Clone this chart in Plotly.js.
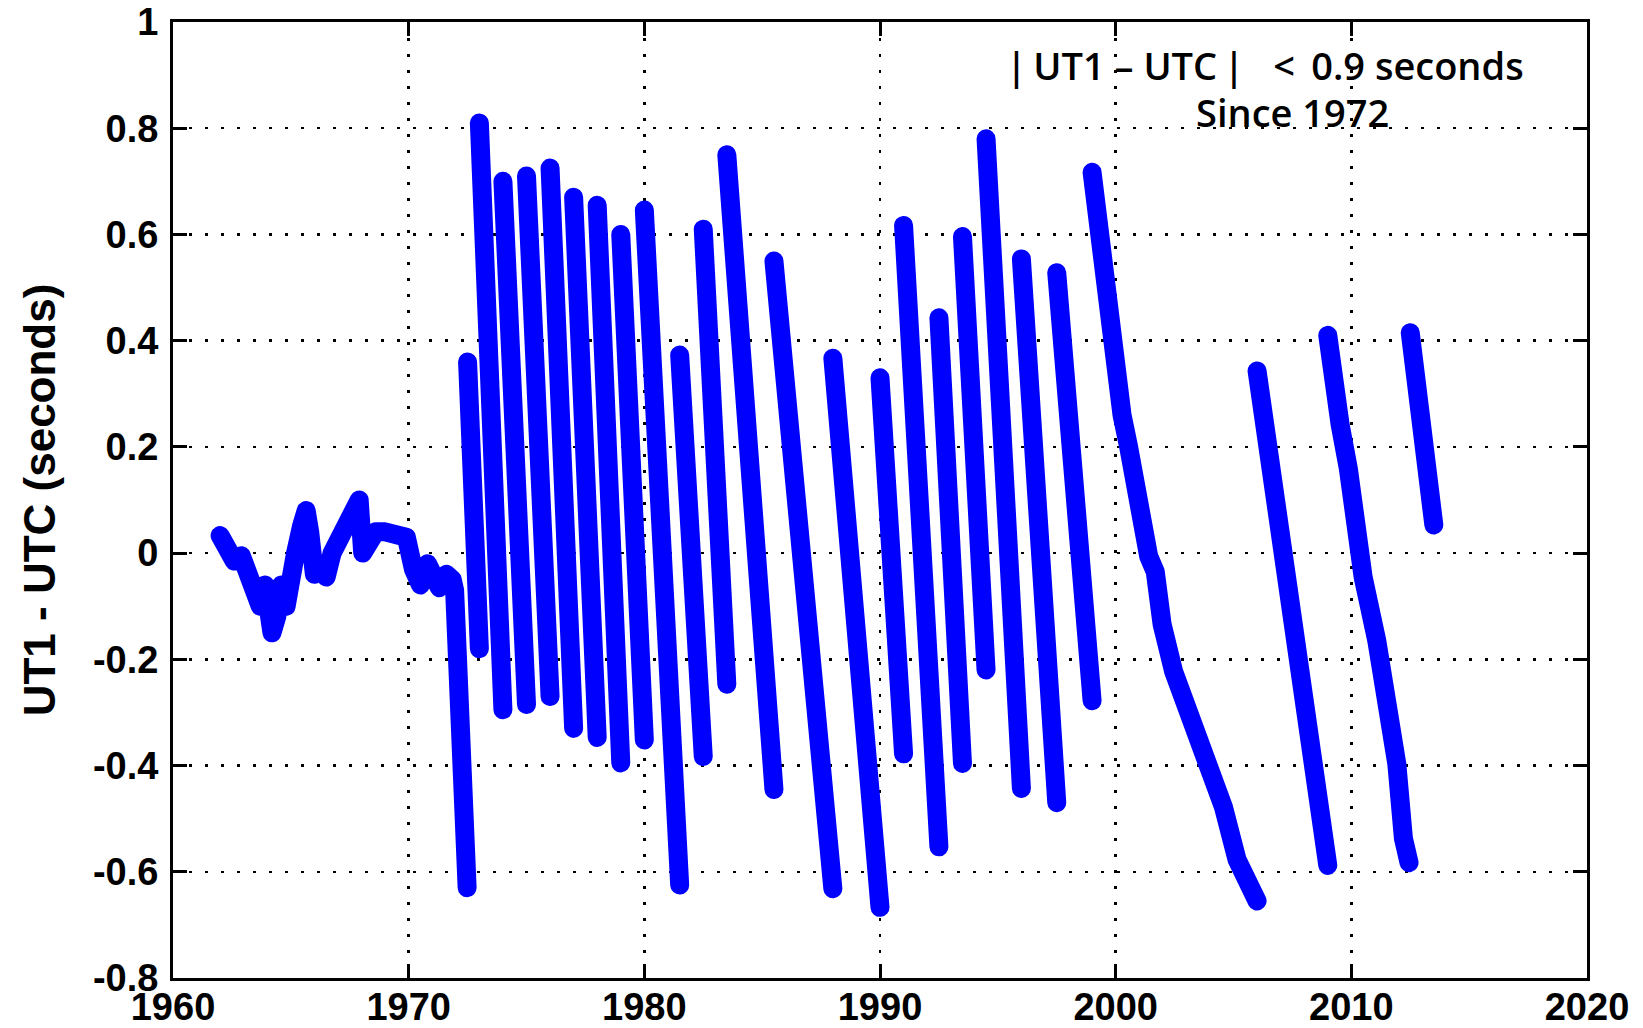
<!DOCTYPE html>
<html>
<head>
<meta charset="utf-8">
<script src="https://cdn.plot.ly/plotly-3.0.1.min.js"></script>
<style>
  html, body { margin: 0; padding: 0; background: #ffffff; }
  #chart { width: 1643px; height: 1028px; }
  .scatterlayer path.js-line { stroke-linecap: round !important; stroke-linejoin: round !important; }
</style>
</head>
<body>
<div id="chart"></div>
<script>
// ---- Data ----
// Before leap seconds (1962 - mid 1972), continuous curve
const preYears  = [1962.0, 1962.3, 1962.6, 1962.9, 1963.2, 1963.5, 1963.7, 1963.9, 1964.1, 1964.2, 1964.4, 1964.6, 1964.8, 1965.0, 1965.2, 1965.45, 1965.65, 1965.8, 1966.0, 1966.25, 1966.5, 1966.75, 1967.0, 1967.3, 1967.6, 1967.9, 1968.05, 1968.3, 1968.6, 1969.0, 1969.5, 1969.9, 1970.2, 1970.5, 1970.8, 1971.0, 1971.3, 1971.6, 1971.85, 1971.95, 1972.1, 1972.3, 1972.48];
const preValues = [0.033, 0.01, -0.015, -0.005, -0.04, -0.07, -0.1, -0.06, -0.11, -0.15, -0.12, -0.06, -0.1, -0.02, 0.0, 0.05, 0.08, 0.04, -0.04, -0.02, -0.045, 0.0, 0.02, 0.05, 0.08, 0.1, 0.0, 0.02, 0.04, 0.04, 0.035, 0.03, -0.03, -0.06, -0.02, -0.04, -0.065, -0.04, -0.05, -0.07, -0.22, -0.45, -0.63];

// Straight saw-tooth segments between leap seconds (1972.5 - 1999)
const sawStartYears  = [1972.5, 1973.0, 1974.0, 1975.0, 1976.0, 1977.0, 1978.0, 1979.0, 1980.0, 1981.5, 1982.5, 1983.5, 1985.5, 1988.0, 1990.0, 1991.0, 1992.5, 1993.5, 1994.5, 1996.0, 1997.5];
const sawStartValues = [0.36, 0.81, 0.70, 0.71, 0.725, 0.67, 0.655, 0.60, 0.646, 0.373, 0.61, 0.75, 0.55, 0.367, 0.33, 0.617, 0.443, 0.596, 0.78, 0.554, 0.528];
const sawEndYears    = [1973.0, 1974.0, 1975.0, 1976.0, 1977.0, 1978.0, 1979.0, 1980.0, 1981.5, 1982.5, 1983.5, 1985.5, 1988.0, 1990.0, 1991.0, 1992.5, 1993.5, 1994.5, 1996.0, 1997.5, 1999.0];
const sawEndValues   = [-0.18, -0.295, -0.285, -0.27, -0.33, -0.347, -0.395, -0.352, -0.625, -0.383, -0.247, -0.445, -0.632, -0.667, -0.378, -0.553, -0.396, -0.22, -0.443, -0.47, -0.278];

// Longer curved segments after 1999
const seg1999Years  = [1999.0, 1999.28, 1999.7, 1999.98, 2000.27, 2000.55, 2000.9, 2001.4, 2001.68, 2001.97, 2002.46, 2002.96, 2003.45, 2004.16, 2004.58, 2005.15, 2005.6, 2006.0];
const seg1999Values = [0.717, 0.605, 0.457, 0.359, 0.26, 0.2, 0.1, -0.006, -0.035, -0.134, -0.223, -0.282, -0.36, -0.43, -0.479, -0.577, -0.61, -0.655];
const seg2006Years  = [2006.0, 2006.14, 2006.56, 2006.85, 2007.06, 2007.27, 2007.62, 2007.91, 2008.33, 2008.76, 2009.0];
const seg2006Values = [0.343, 0.299, 0.187, 0.113, 0.0, -0.072, -0.156, -0.258, -0.397, -0.537, -0.588];
const seg2009Years  = [2009.0, 2009.17, 2009.52, 2009.87, 2010.2, 2010.5, 2011.08, 2011.5, 2011.93, 2012.21, 2012.45];
const seg2009Values = [0.41, 0.345, 0.243, 0.16, 0.02, -0.045, -0.165, -0.258, -0.397, -0.537, -0.583];
const seg2012Years  = [2012.5, 2012.78, 2013.05, 2013.2, 2013.5];
const seg2012Values = [0.415, 0.299, 0.187, 0.113, 0.053];

// Axis ticks
const xTickVals = [1960, 1970, 1980, 1990, 2000, 2010, 2020];
const xTickText = ['1960', '1970', '1980', '1990', '2000', '2010', '2020'];
const yTickVals = [1, 0.8, 0.6, 0.4, 0.2, 0, -0.2, -0.4, -0.6, -0.8];
const yTickText = ['1', '0.8', '0.6', '0.4', '0.2', '0', '-0.2', '-0.4', '-0.6', '-0.8'];

const noteLine1 = '|\u2009UT1 \u2013 UTC\u2009|\u2002 <\u2009 0.9 seconds';
const noteLine2 = 'Since 1972';

// ---- Build one series with gaps at each leap second ----
const xs = [], ys = [];
function addSeg(yrs, vals) {
  for (let i = 0; i < yrs.length; i++) { xs.push(yrs[i]); ys.push(vals[i]); }
  xs.push(null); ys.push(null);
}
addSeg(preYears, preValues);
for (let i = 0; i < sawStartYears.length; i++) {
  addSeg([sawStartYears[i], sawEndYears[i]], [sawStartValues[i], sawEndValues[i]]);
}
addSeg(seg1999Years, seg1999Values);
addSeg(seg2006Years, seg2006Values);
addSeg(seg2009Years, seg2009Values);
addSeg(seg2012Years, seg2012Values);

const trace = {
  x: xs, y: ys, type: 'scatter', mode: 'lines',
  connectgaps: false,
  line: { color: '#0000ff', width: 19 },
  hoverinfo: 'skip'
};

const tickFont = { family: 'Liberation Sans, Arial, sans-serif', size: 38, color: '#000', weight: 'bold' };

const layout = {
  width: 1643, height: 1028,
  paper_bgcolor: '#ffffff', plot_bgcolor: '#ffffff',
  margin: { l: 173, r: 56, t: 22, b: 50, pad: 0 },
  showlegend: false,
  xaxis: {
    range: [1960, 2020], tickvals: xTickVals, ticktext: xTickText,
    showline: true, linecolor: '#000', linewidth: 3, mirror: 'ticks',
    ticks: 'inside', ticklen: 14, tickwidth: 3, tickcolor: '#000',
    showgrid: true, gridcolor: '#000', gridwidth: 2.5, griddash: '3px,13px',
    zeroline: false, tickfont: tickFont, ticklabelstandoff: -7
  },
  yaxis: {
    range: [-0.8, 1], tickvals: yTickVals, ticktext: yTickText,
    showline: true, linecolor: '#000', linewidth: 3, mirror: 'ticks',
    ticks: 'inside', ticklen: 14, tickwidth: 3, tickcolor: '#000',
    showgrid: true, gridcolor: '#000', gridwidth: 2.5, griddash: '3px,13px',
    zeroline: false, tickfont: tickFont, ticklabelstandoff: 4,
    title: { text: 'UT1 - UTC (seconds)', standoff: 24,
             font: { family: 'Liberation Sans, Arial, sans-serif', size: 44, color: '#000', weight: 'bold' } }
  },
  annotations: [
    { text: noteLine1, xref: 'x', yref: 'y', x: 2006.35, y: 0.919, showarrow: false,
      xanchor: 'center', yanchor: 'middle',
      font: { family: 'Open Sans, sans-serif', size: 38, color: '#000', weight: 600 } },
    { text: noteLine2, xref: 'x', yref: 'y', x: 2007.5, y: 0.831, showarrow: false,
      xanchor: 'center', yanchor: 'middle',
      font: { family: 'Open Sans, sans-serif', size: 38, color: '#000', weight: 600 } }
  ]
};

Plotly.newPlot('chart', [trace], layout, { staticPlot: true, displayModeBar: false });
</script>
</body>
</html>
